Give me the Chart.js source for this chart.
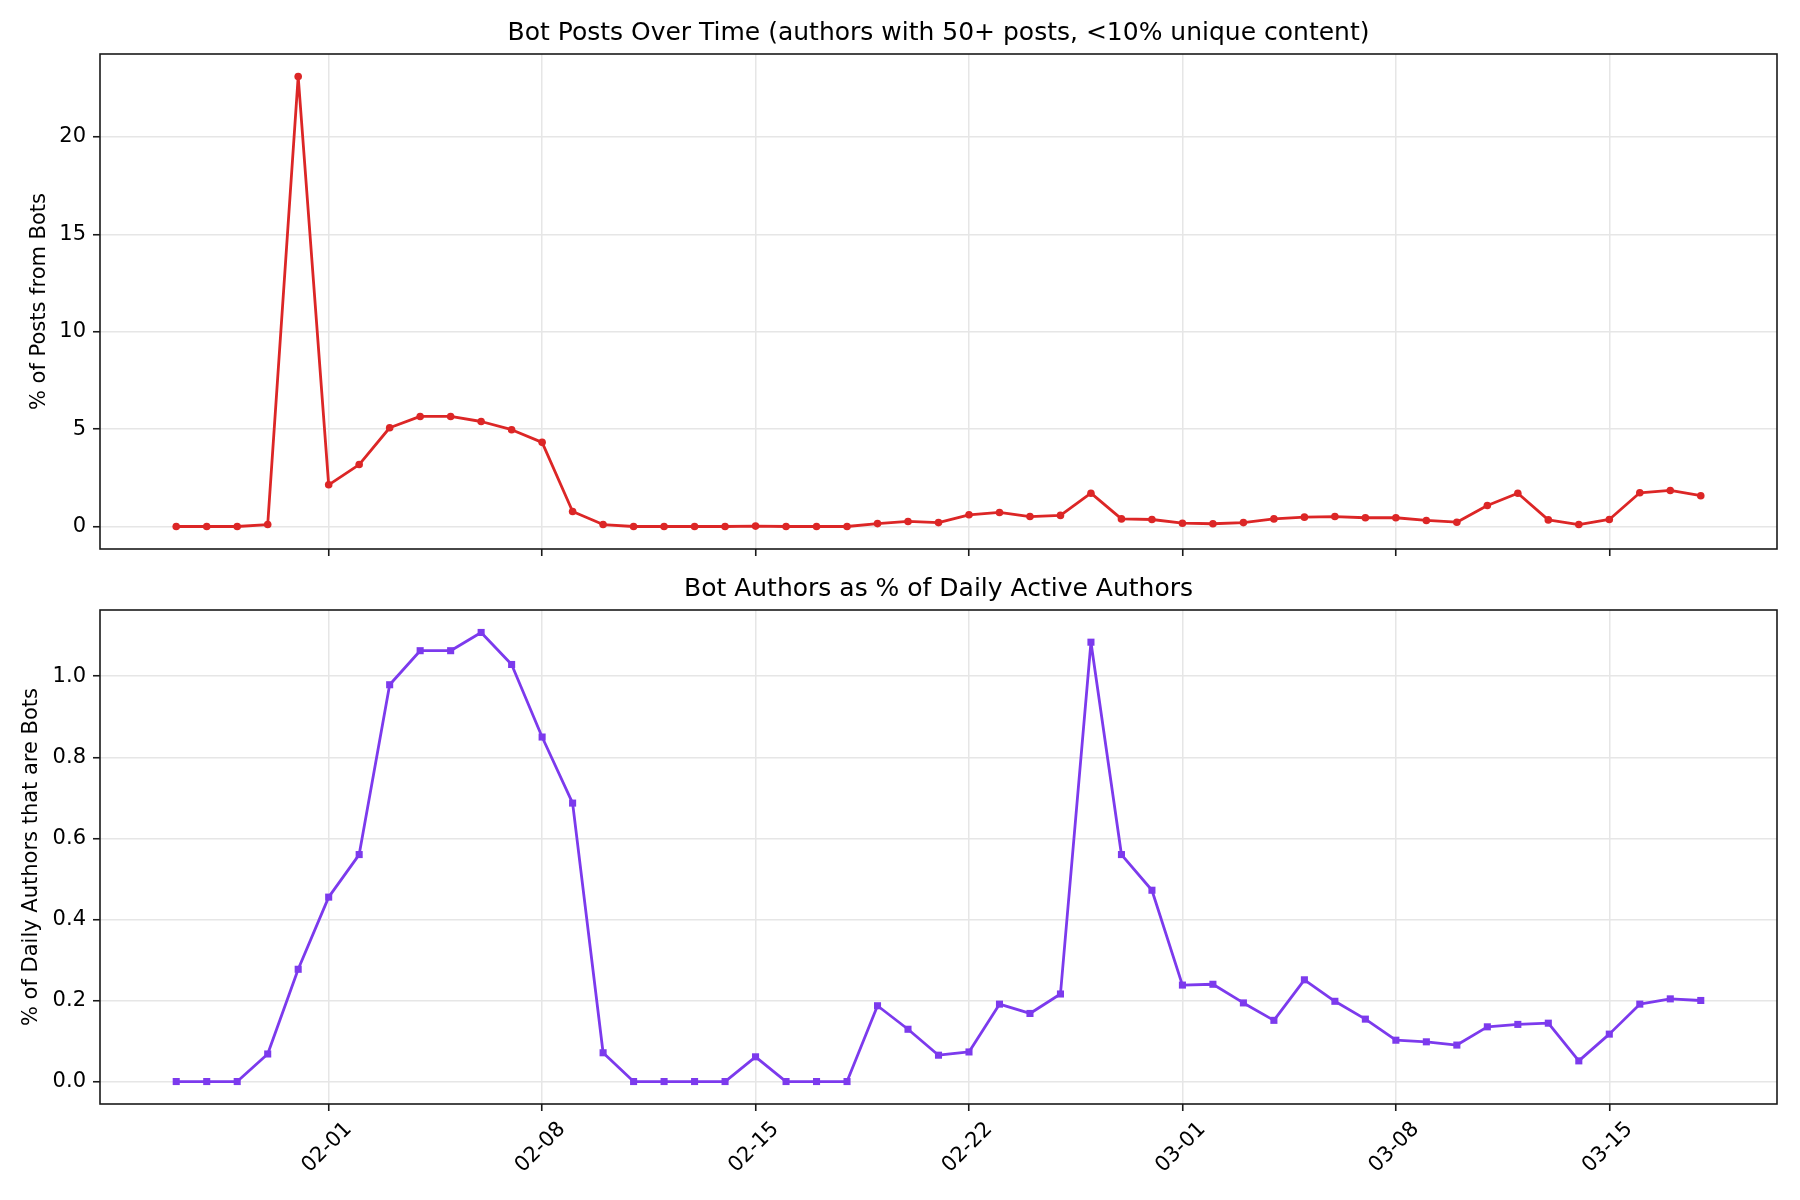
<!DOCTYPE html>
<html>
<head>
<meta charset="utf-8">
<script src="https://cdn.jsdelivr.net/npm/chart.js@4.4.1/dist/chart.umd.min.js"></script>
<style>
  body { margin: 0; background: #fff; }
  #wrap { position: relative; width: 1800px; height: 1200px; background: #fff; }
  canvas { position: absolute; left: 0; }
</style>
</head>
<body>
<div id="wrap">
  <canvas id="posts" width="1800" height="570" style="top:0px"></canvas>
  <canvas id="authors" width="1800" height="630" style="top:570px"></canvas>
</div>
<script>
const dates = ['01-27', '01-28', '01-29', '01-30', '01-31',
  '02-01', '02-02', '02-03', '02-04', '02-05', '02-06', '02-07', '02-08', '02-09', '02-10',
  '02-11', '02-12', '02-13', '02-14', '02-15', '02-16', '02-17', '02-18', '02-19', '02-20',
  '02-21', '02-22', '02-23', '02-24', '02-25', '02-26', '02-27', '02-28',
  '03-01', '03-02', '03-03', '03-04', '03-05', '03-06', '03-07', '03-08', '03-09', '03-10',
  '03-11', '03-12', '03-13', '03-14', '03-15', '03-16', '03-17', '03-18'];

// % of posts from bots
const postsPct = [0, 0, 0, 0.1, 23.1,
  2.14, 3.18, 5.07, 5.65, 5.65, 5.39, 4.97, 4.32, 0.77, 0.1,
  0, 0, 0, 0, 0.02, 0, 0, 0, 0.15, 0.26,
  0.2, 0.6, 0.72, 0.51, 0.57, 1.71, 0.39, 0.36,
  0.17, 0.14, 0.2, 0.39, 0.48, 0.51, 0.45, 0.45, 0.31, 0.22,
  1.08, 1.71, 0.34, 0.1, 0.36, 1.73, 1.85, 1.58];

// % of daily active authors that are bots
const authorsPct = [0, 0, 0, 0.068, 0.277,
  0.455, 0.56, 0.979, 1.063, 1.063, 1.108, 1.029, 0.85, 0.687, 0.071,
  0, 0, 0, 0, 0.061, 0, 0, 0, 0.187, 0.129,
  0.065, 0.073, 0.191, 0.168, 0.216, 1.084, 0.56, 0.472,
  0.238, 0.24, 0.194, 0.151, 0.251, 0.198, 0.154, 0.102, 0.098, 0.09,
  0.135, 0.141, 0.144, 0.051, 0.117, 0.191, 0.204, 0.2];

const xTickLabels = ['02-01', '02-08', '02-15', '02-22', '03-01', '03-08', '03-15'];
const postsTicks = [0, 5, 10, 15, 20];
const authorsTicks = [0, 0.2, 0.4, 0.6, 0.8, 1.0];

Chart.defaults.font.family = "'DejaVu Sans', sans-serif";
Chart.defaults.color = '#000';

// matplotlib style box around the plot area
const frame = {
  id: 'frame',
  afterDraw(chart) {
    const a = chart.chartArea;
    const ctx = chart.ctx;
    ctx.save();
    ctx.strokeStyle = '#1a1a1a';
    ctx.lineWidth = 1.6;
    ctx.strokeRect(a.left, a.top, a.right - a.left, a.bottom - a.top);
    ctx.restore();
  }
};

function toPoints(vals) {
  return vals.map((v, i) => ({ x: i, y: v }));
}

function pad(lo, hi) {
  const m = (hi - lo) * 0.05;
  return [lo - m, hi + m];
}

function makeChart(el, o) {
  const yr = pad(0, Math.max(...o.values));
  const xr = pad(0, dates.length - 1);
  return new Chart(el, {
    type: 'line',
    data: {
      datasets: [{
        data: toPoints(o.values),
        borderColor: o.color,
        backgroundColor: o.color,
        borderWidth: 2.8,
        borderJoinStyle: 'round',
        borderCapStyle: 'round',
        pointStyle: o.marker,
        pointRadius: o.radius,
        pointBorderWidth: 0,
        pointHoverRadius: o.radius,
        tension: 0,
      }],
    },
    options: {
      responsive: false,
      animation: false,
      devicePixelRatio: 1,
      layout: { padding: { left: 0, right: 23, top: 0, bottom: 0 } },
      plugins: {
        legend: { display: false },
        tooltip: { enabled: false },
        title: {
          display: true,
          fullSize: false,
          text: o.title,
          color: '#000',
          font: { size: 25, weight: 'normal' },
          padding: o.titlePad,
        },
      },
      scales: {
        x: {
          type: 'linear',
          min: xr[0],
          max: xr[1],
          afterBuildTicks: s => { s.ticks = xTickLabels.map(l => ({ value: dates.indexOf(l) })); },
          afterFit: s => { s.height = o.xHeight; },
          grid: { color: '#e6e6e6', lineWidth: 1.5, tickColor: '#1a1a1a', tickLength: 7, tickWidth: 1.6 },
          border: { display: false },
          ticks: {
            display: o.showX,
            font: { size: 21 },
            minRotation: 45,
            maxRotation: 45,
            padding: 6,
            labelOffset: 20,
            callback: v => dates[v],
          },
        },
        y: {
          min: yr[0],
          max: yr[1],
          afterBuildTicks: s => { s.ticks = o.ticks.map(v => ({ value: v })); },
          afterFit: s => { s.width = 100; },
          grid: { color: '#e6e6e6', lineWidth: 1.5, tickColor: '#1a1a1a', tickLength: 7, tickWidth: 1.6 },
          border: { display: false },
          ticks: {
            font: { size: 21 },
            padding: 7,
            callback: o.fmt,
          },
          title: {
            display: true,
            text: o.yTitle,
            font: { size: 21 },
            padding: { top: o.yTitleTop, bottom: 0 },
          },
        },
      },
    },
    plugins: [frame],
  });
}

makeChart(document.getElementById('posts'), {
  values: postsPct,
  color: '#dc2626',
  marker: 'circle',
  radius: 3.8,
  title: 'Bot Posts Over Time (authors with 50+ posts, <10% unique content)',
  titlePad: { top: 18, bottom: 6 },
  yTitle: '% of Posts from Bots',
  yTitleTop: 27,
  ticks: postsTicks,
  fmt: v => String(v),
  showX: false,
  xHeight: 21,
});

makeChart(document.getElementById('authors'), {
  values: authorsPct,
  color: '#7c3aed',
  marker: 'rect',
  radius: 5,
  title: 'Bot Authors as % of Daily Active Authors',
  titlePad: { top: 4, bottom: 6 },
  yTitle: '% of Daily Authors that are Bots',
  yTitleTop: 19,
  ticks: authorsTicks,
  fmt: v => v.toFixed(1),
  showX: true,
  xHeight: 96,
});
</script>
</body>
</html>
